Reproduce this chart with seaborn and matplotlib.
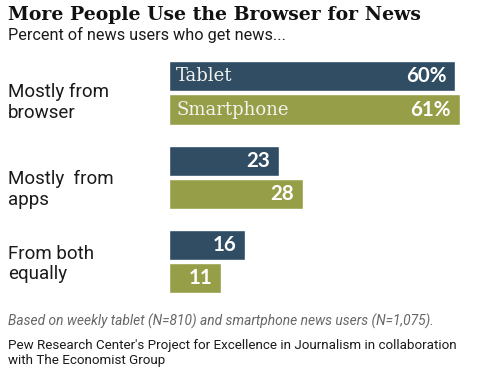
import matplotlib
matplotlib.use("Agg")
import matplotlib.pyplot as plt
import matplotlib.transforms as mtransforms
import seaborn as sns
import pandas as pd

categories = ["Mostly from\nbrowser", "Mostly  from\napps", "From both\nequally"]
devices = ["Tablet", "Smartphone"]
tablet = [60, 23, 16]
smartphone = [61, 28, 11]

title = "More People Use the Browser for News"
subtitle = "Percent of news users who get news..."
note = "Based on weekly tablet (N=810) and smartphone news users (N=1,075)."
source = "Pew Research Center's Project for Excellence in Journalism in collaboration\nwith The Economist Group"

colors = {"Tablet": "#304D63", "Smartphone": "#969E48"}

df = pd.DataFrame({
    "category": categories * 2,
    "device": [devices[0]] * 3 + [devices[1]] * 3,
    "value": tablet + smartphone,
})

sns.set_theme(style="white")
W, H = 484, 378
fig = plt.figure(figsize=(W / 100, H / 100), dpi=100)
ax = fig.add_axes([169 / W, 1 - 300 / H, 300.5 / W, 250 / H])

sns.barplot(data=df, y="category", x="value", hue="device", orient="h",
            palette=colors, width=0.786, gap=0.09, legend=False, ax=ax,
            saturation=1, order=categories, hue_order=devices)

ax.set_xlim(0, 63)
ax.set_ylim(2.457, -0.51)
ax.set_xlabel("")
ax.set_ylabel("")
ax.set_xticks([])
ax.set_yticks([])
for s in ax.spines.values():
    s.set_visible(False)

# value labels inside bars
for cont, dev, vals in zip(ax.containers, devices, [tablet, smartphone]):
    for i, (patch, v) in enumerate(zip(cont.patches, vals)):
        y = patch.get_y() + patch.get_height() / 2
        label = f"{v}%" if i == 0 else f"{v}"
        tr = mtransforms.offset_copy(ax.transData, fig=fig, x=-9, y=0, units="dots")
        ax.text(patch.get_width(), y, label, transform=tr, ha="right", va="center",
                color="white", fontsize=14.8, fontweight="bold", family="Lato")
        if i == 0:
            tr2 = mtransforms.offset_copy(ax.transData, fig=fig, x=7, y=0, units="dots")
            ax.text(patch.get_x(), y, dev, transform=tr2, ha="left", va="center",
                    color="#F2F2EE", fontsize=13, family="DejaVu Serif")

# category labels
label_shift = [9.5, 12.5, 2.5]
for i, cat in enumerate(categories):
    yy = ax.transData.transform((0, i))[1]
    fig.text(8 / W, (yy - label_shift[i]) / H, cat, ha="left", va="center", fontsize=13.5,
             family="Roboto", color="#1a1a1a", linespacing=1.2)

fig.text(8 / W, 1 - 6 / H, title, ha="left", va="top", fontsize=13.6,
         fontweight="bold", family="DejaVu Serif", color="#111111")
fig.text(8 / W, 1 - 27 / H, subtitle, ha="left", va="top", fontsize=11.7,
         family="Roboto", color="#1a1a1a")
fig.text(8 / W, 1 - 314 / H, note, ha="left", va="top", fontsize=9.95,
         family="Roboto", style="italic", color="#666666")
fig.text(8 / W, 1 - 339 / H, source, ha="left", va="top", fontsize=9.6,
         family="Roboto", color="#1a1a1a", linespacing=1.2)

fig.savefig("out.png", dpi=100)
